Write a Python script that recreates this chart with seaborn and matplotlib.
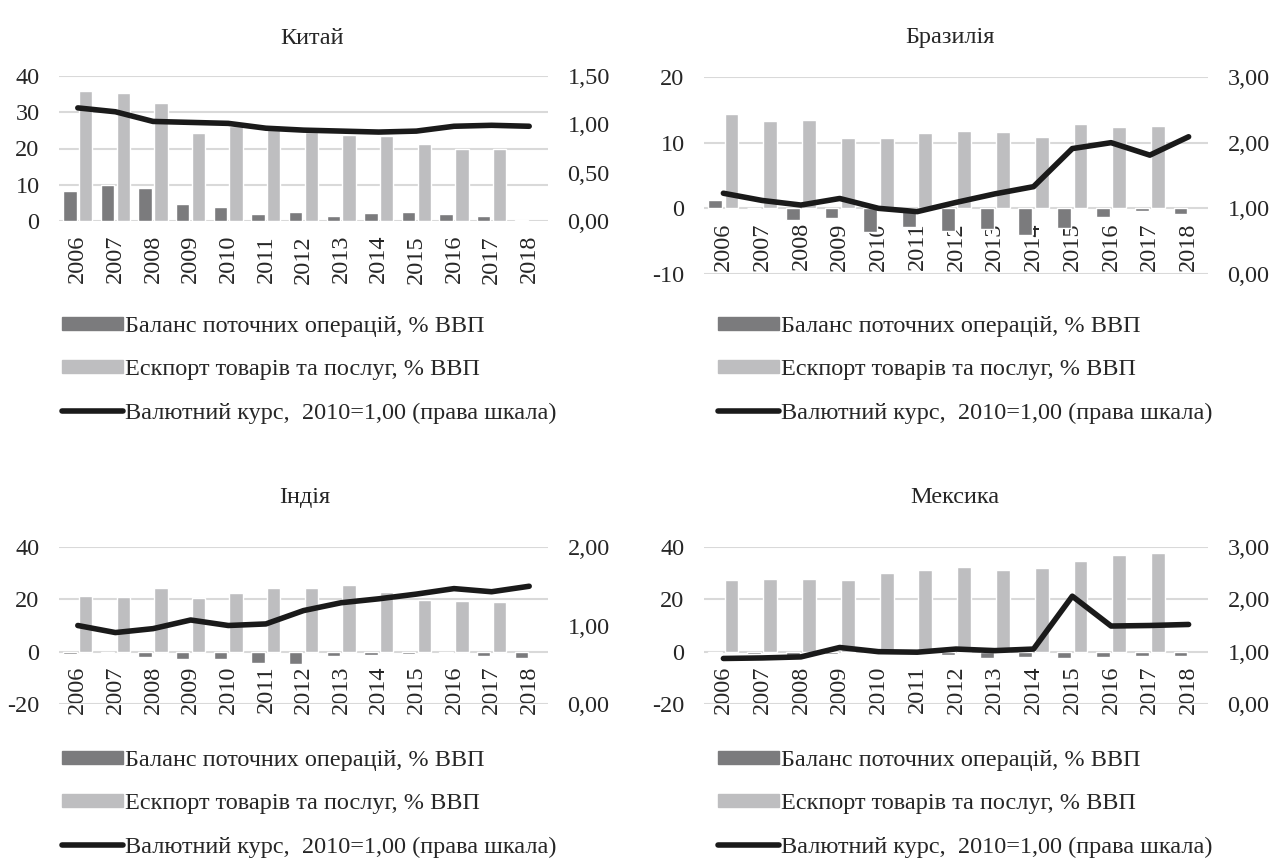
import numpy as np
import pandas as pd
import matplotlib
matplotlib.use("Agg")
import matplotlib.pyplot as plt
import seaborn as sns
from matplotlib.patches import Patch
from matplotlib.lines import Line2D

years = list(range(2006, 2019))

# Китай
china_ca = [8.3, 9.9, 9.1, 4.6, 3.9, 1.8, 2.4, 1.5, 2.2, 2.6, 1.8, 1.4, 0.4]
china_exp = [35.9, 35.3, 32.6, 24.4, 26.3, 26.4, 24.6, 23.7, 23.5, 21.3, 19.8, 19.8, np.nan]
china_fx = [1.17, 1.13, 1.03, 1.02, 1.01, 0.96, 0.94, 0.93, 0.92, 0.93, 0.98, 0.99, 0.98]

# Бразилія
brazil_ca = [1.2, 0.1, -1.8, -1.5, -3.6, -2.9, -3.4, -3.2, -4.1, -3.0, -1.3, -0.4, -0.9]
brazil_exp = [14.3, 13.3, 13.4, 10.7, 10.7, 11.5, 11.8, 11.6, 10.9, 12.8, 12.4, 12.5, np.nan]
brazil_fx = [1.23, 1.12, 1.05, 1.15, 1.00, 0.95, 1.09, 1.22, 1.33, 1.91, 2.00, 1.81, 2.09]

# Індія
india_ca = [-1.0, -0.7, -2.2, -2.8, -2.8, -4.3, -4.8, -1.7, -1.3, -1.0, -0.6, -1.8, -2.4]
india_exp = [21.4, 20.8, 24.2, 20.4, 22.4, 24.5, 24.5, 25.4, 22.9, 19.9, 19.2, 18.8, np.nan]
india_fx = [1.00, 0.91, 0.96, 1.07, 1.00, 1.02, 1.19, 1.29, 1.34, 1.40, 1.47, 1.43, 1.50]

# Мексика
mexico_ca = [-0.5, -0.9, -1.5, -0.9, -0.5, -1.0, -1.4, -2.4, -1.9, -2.6, -2.2, -1.7, -1.8]
mexico_exp = [27.3, 27.6, 27.8, 27.3, 30.0, 31.1, 32.4, 31.4, 32.0, 34.7, 37.1, 37.8, np.nan]
mexico_fx = [0.87, 0.88, 0.90, 1.08, 1.00, 0.99, 1.05, 1.02, 1.05, 2.06, 1.49, 1.50, 1.52]

lbl_ca = "Баланс поточних операцій, % ВВП"
lbl_exp = "Ескпорт товарів та послуг, % ВВП"
lbl_fx = "Валютний курс,  2010=1,00 (права шкала)"

C_CA = "#7b7b7d"
C_EXP = "#bebec0"
C_FX = "#1a1a1a"
C_GRID = "#d9d9d9"

sns.set_style("white")
plt.rcParams['font.family'] = ['Liberation Serif', 'DejaVu Serif']
plt.rcParams['axes.unicode_minus'] = False
FS = 17.5

W, H = 1276, 859
fig = plt.figure(figsize=(W / 100, H / 100), dpi=100)


def rect(l, r, t, b):
    return [l / W, 1 - b / H, (r - l) / W, (b - t) / H]


panels = [
    # title, ca, exp, fx, ylim, yticks, rlim, rticks, axes box, title xy, legend xy
    ("Китай", china_ca, china_exp, china_fx, (0, 40), [0, 10, 20, 30, 40],
     (0, 1.5), [0, 0.5, 1.0, 1.5], (59, 548, 76, 221), (312, 38), (62, 316)),
    ("Бразилія", brazil_ca, brazil_exp, brazil_fx, (-10, 20), [-10, 0, 10, 20],
     (0, 3), [0, 1, 2, 3], (704, 1208, 77, 274), (950, 38), (718, 316)),
    ("Індія", india_ca, india_exp, india_fx, (-20, 40), [-20, 0, 20, 40],
     (0, 2), [0, 1, 2], (59, 548, 547, 704), (305, 497), (62, 750)),
    ("Мексика", mexico_ca, mexico_exp, mexico_fx, (-20, 40), [-20, 0, 20, 40],
     (0, 3), [0, 1, 2, 3], (704, 1208, 547, 704), (955, 497), (718, 750)),
]

for title, ca, exp, fx, ylim, yt, rlim, rt, box, txy, lxy in panels:
    df = pd.DataFrame({"year": years, lbl_ca: ca, lbl_exp: exp})
    long = df.melt(id_vars="year", var_name="series", value_name="value").dropna()

    ax = fig.add_axes(rect(*box))
    sns.barplot(data=long, x="year", y="value", hue="series",
                hue_order=[lbl_ca, lbl_exp],
                palette={lbl_ca: C_CA, lbl_exp: C_EXP},
                width=0.84, gap=0.15, legend=False, ax=ax, saturation=1)
    ax.set_axisbelow(True)
    ax.yaxis.grid(True, color=C_GRID, lw=1.5)
    ax.xaxis.grid(False)
    ax.set_ylim(*ylim)
    ax.set_yticks(yt)
    ax.set_xlabel("")
    ax.set_ylabel("")
    for s in ax.spines.values():
        s.set_color("none")
    # year labels sit right under the zero line, as in Excel
    ax.spines["bottom"].set_position(("data", 0))
    ax.tick_params(axis="y", length=0, pad=14, labelsize=FS)
    ax.tick_params(axis="x", length=0, pad=10, labelsize=FS, rotation=90)

    ax2 = ax.twinx()
    sns.lineplot(x=np.arange(len(years)), y=fx, ax=ax2, color=C_FX, lw=4,
                 solid_joinstyle="round", solid_capstyle="round")
    ax2.set_ylim(*rlim)
    ax2.set_yticks(rt)
    ax2.set_yticklabels([f"{v:.2f}".replace(".", ",") for v in rt])
    ax2.grid(False)
    for s in ax2.spines.values():
        s.set_color("none")
    ax2.tick_params(axis="y", length=0, pad=14, labelsize=FS)
    ax2.set_ylabel("")
    ax.set_xlim(-0.5, len(years) - 0.5)

    fig.text(txy[0] / W, 1 - txy[1] / H, title, ha="center", va="center", fontsize=FS)

    handles = [Patch(color=C_CA), Patch(color=C_EXP),
               Line2D([], [], color=C_FX, lw=4, solid_capstyle="round")]
    ax.legend(handles, [lbl_ca, lbl_exp, lbl_fx], loc="upper left",
              bbox_to_anchor=(lxy[0] / W, 1 - lxy[1] / H), bbox_transform=fig.transFigure,
              frameon=False, fontsize=FS, handlelength=2.5, handleheight=0.45,
              handletextpad=0.1, labelspacing=0.92, borderpad=0, borderaxespad=0)

fig.savefig("out.png", dpi=100)
